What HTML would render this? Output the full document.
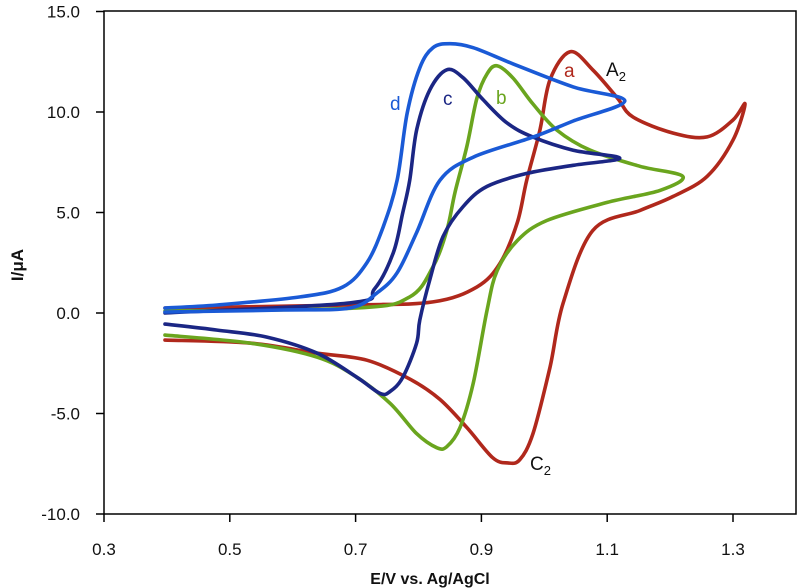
<!DOCTYPE html>
<html><head><meta charset="utf-8"><style>
body{margin:0;background:#fff;}
svg{display:block;font-family:"Liberation Sans",sans-serif;}
</style></head><body>
<svg id="chart" width="800" height="588"></svg>
<script>
const xTicks=[0.3,0.5,0.7,0.9,1.1,1.3];
const yTicks=[15,10,5,0,-5,-10];
const curveA=[[0.397,0.25],[0.691,0.4],[0.823,0.55],[0.893,1.3],[0.93,2.5],[0.957,4.5],[0.972,6.6],[0.993,9.1],[1.009,11.6],[1.041,13.0],[1.077,12.1],[1.116,10.7],[1.141,9.75],[1.205,8.95],[1.259,8.76],[1.30,9.6],[1.319,10.4],[1.30,8.6],[1.259,6.8],[1.205,5.8],[1.152,5.1],[1.077,4.1],[1.03,0.5],[1.009,-2.7],[0.982,-6.0],[0.961,-7.3],[0.942,-7.46],[0.918,-7.2],[0.877,-5.7],[0.834,-4.3],[0.787,-3.3],[0.718,-2.35],[0.639,-2.0],[0.532,-1.5],[0.397,-1.35]];
const curveB=[[0.397,0.1],[0.702,0.25],[0.786,0.8],[0.823,2.3],[0.845,4.1],[0.858,6.0],[0.877,8.3],[0.893,10.7],[0.909,11.9],[0.925,12.3],[0.95,11.7],[0.982,10.4],[1.02,9.1],[1.073,8.1],[1.152,7.3],[1.22,6.8],[1.184,6.1],[1.10,5.5],[1.004,4.6],[0.957,3.6],[0.925,2.1],[0.909,0.15],[0.887,-3.5],[0.866,-5.7],[0.845,-6.65],[0.829,-6.7],[0.797,-6.0],[0.755,-4.5],[0.702,-3.2],[0.639,-2.2],[0.532,-1.5],[0.397,-1.1]];
const curveC=[[0.397,0.0],[0.691,0.5],[0.73,1.2],[0.76,3.0],[0.775,5.0],[0.786,6.6],[0.797,9.1],[0.818,11.1],[0.845,12.1],[0.871,11.7],[0.903,10.6],[0.941,9.45],[0.982,8.75],[1.046,8.1],[1.12,7.7],[1.046,7.35],[0.973,6.95],[0.909,6.3],[0.871,5.3],[0.839,3.8],[0.818,1.65],[0.802,-0.35],[0.797,-1.5],[0.775,-3.2],[0.755,-3.9],[0.739,-4.0],[0.702,-3.2],[0.639,-2.0],[0.559,-1.2],[0.48,-0.85],[0.397,-0.55]];
const curveD=[[0.397,0.05],[0.585,0.15],[0.691,0.25],[0.734,1.0],[0.766,2.0],[0.797,4.0],[0.834,6.6],[0.887,7.75],[0.982,8.75],[1.046,9.55],[1.128,10.55],[1.046,11.25],[0.95,12.4],[0.887,13.2],[0.85,13.4],[0.823,13.2],[0.802,12.2],[0.782,9.95],[0.766,6.6],[0.744,4.3],[0.718,2.5],[0.68,1.3],[0.612,0.8],[0.48,0.4],[0.397,0.25]];

const L=104,R=796,T=11,B=514;
function Xs(e){return L+(e-0.3)*629;}
function Y(i){return 313-i*20.1;}
const svg=document.getElementById('chart');
const NS='http://www.w3.org/2000/svg';
function mk(tag,attrs,parent){const el=document.createElementNS(NS,tag);for(const k in attrs)el.setAttribute(k,attrs[k]);(parent||svg).appendChild(el);return el;}
function smooth(pts){
  const p=pts.map(d=>[Xs(d[0]),Y(d[1])]);
  let s='M'+p[0][0].toFixed(1)+','+p[0][1].toFixed(1);
  for(let i=0;i<p.length-1;i++){
    const p0=p[i-1]||p[i],p1=p[i],p2=p[i+1],p3=p[i+2]||p2;
    const c1=[p1[0]+(p2[0]-p0[0])/6,p1[1]+(p2[1]-p0[1])/6];
    const c2=[p2[0]-(p3[0]-p1[0])/6,p2[1]-(p3[1]-p1[1])/6];
    s+='C'+c1[0].toFixed(1)+','+c1[1].toFixed(1)+' '+c2[0].toFixed(1)+','+c2[1].toFixed(1)+' '+p2[0].toFixed(1)+','+p2[1].toFixed(1);
  }
  return s;
}
const frame=mk('rect',{x:L,y:T,width:R-L,height:B-T,fill:'none',stroke:'#000','stroke-width':1.5});


yTicks.forEach(v=>{
  const t=mk('line',{x1:96,x2:L,y1:Y(v),y2:Y(v),stroke:'#000','stroke-width':1.5});
  
  
  const lb=mk('text',{x:80,y:Y(v)+6,'text-anchor':'end','font-size':17,fill:'#111'});
  lb.textContent=v.toFixed(1);
  
  
});
xTicks.forEach(v=>{
  const t=mk('line',{x1:Xs(v),x2:Xs(v),y1:B,y2:B+8,stroke:'#000','stroke-width':1.5});
  
  
  const lb=mk('text',{x:Xs(v),y:555,'text-anchor':'middle','font-size':17,fill:'#111'});
  lb.textContent=v.toFixed(1);
  
  
});
const series=[['curve-a',curveA,'#b0281c'],['curve-b',curveB,'#6aa51e'],['curve-c',curveC,'#1b2684'],['curve-d',curveD,'#1a5ad6']];
series.forEach(s=>{
  const p=mk('path',{d:smooth(s[1]),fill:'none',stroke:s[2],'stroke-width':3.6,'stroke-linejoin':'round','stroke-linecap':'round'});
  
  
});
</script>
<svg width="800" height="588" style="position:absolute;left:0;top:0;font-family:'Liberation Sans',sans-serif">
<text x="564" y="77" font-size="19" fill="#b0281c">a</text>
<text x="606" y="76" font-size="19" fill="#111">A<tspan font-size="13" dy="5">2</tspan></text>
<text x="496" y="104" font-size="19" fill="#6aa51e">b</text>
<text x="443" y="105" font-size="19" fill="#1b2684">c</text>
<text x="390" y="110" font-size="19" fill="#1a5ad6">d</text>
<text x="530" y="470" font-size="19" fill="#111">C<tspan font-size="13" dy="5">2</tspan></text>
<text x="430" y="584" font-size="16" font-weight="bold" text-anchor="middle" fill="#111">E/V vs. Ag/AgCl</text>
<text transform="translate(23,265) rotate(-90)" font-size="17" font-weight="bold" text-anchor="middle" fill="#111">I/μA</text>
</svg>
</body></html>
